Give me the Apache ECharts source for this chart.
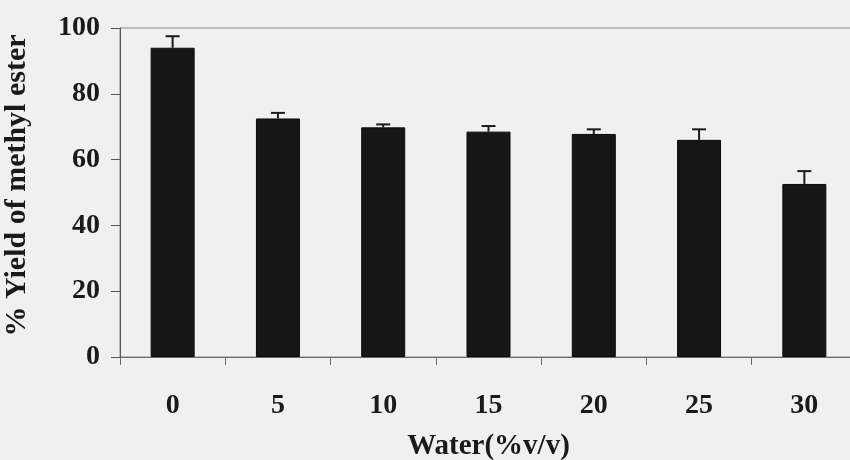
<!DOCTYPE html>
<html>
<head>
<meta charset="utf-8">
<script src="https://cdn.jsdelivr.net/npm/echarts@6/dist/echarts.min.js"></script>
<style>
html,body{margin:0;padding:0;background:#f0f0f0;}
#chart{width:850px;height:460px;}
</style>
</head>
<body>
<div id="chart"></div>
<script>
const categories = ['0', '5', '10', '15', '20', '25', '30'];
const yieldValues = [94.0, 72.5, 69.8, 68.5, 67.8, 66.0, 52.6];
const errorValues = [3.5, 1.7, 0.9, 1.7, 1.4, 3.2, 3.9];
const yTicks = [0, 20, 40, 60, 80, 100];

const font = 'Liberation Serif, Times New Roman, serif';
const chart = echarts.init(document.getElementById('chart'), null, {renderer: 'canvas'});

const errData = categories.map((c, i) => [i, yieldValues[i], yieldValues[i] + errorValues[i]]);

chart.setOption({
  backgroundColor: '#f0f0f0',
  animation: false,
  grid: {
    left: 120, top: 28, width: 737, height: 329,
    containLabel: false,
    outerBoundsMode: 'none',
    show: true, borderColor: '#8a8a8a', borderWidth: 1, backgroundColor: 'transparent'
  },
  xAxis: {
    type: 'category',
    data: categories,
    name: 'Water(%v/v)',
    nameLocation: 'middle',
    nameGap: 75,
    nameTextStyle: {fontFamily: font, fontWeight: 'bold', fontSize: 29, color: '#1a1a1a'},
    axisLine: {lineStyle: {color: '#6a6a6a', width: 1}},
    axisTick: {show: true, length: 8, inside: false, lineStyle: {color: '#6a6a6a'}},
    axisLabel: {fontFamily: font, fontWeight: 'bold', fontSize: 28, color: '#1a1a1a', margin: 35},
    splitLine: {show: false}
  },
  yAxis: {
    type: 'value',
    min: 0, max: 100, interval: 20,
    name: '% Yield of methyl ester',
    nameLocation: 'middle',
    nameGap: 88,
    nameRotate: 90,
    nameTextStyle: {fontFamily: font, fontWeight: 'bold', fontSize: 30, color: '#1a1a1a', padding: [0, 0, 0, 14]},
    axisLine: {show: true, lineStyle: {color: '#555', width: 1}},
    axisTick: {show: true, length: 9, lineStyle: {color: '#555'}},
    axisLabel: {
      fontFamily: font, fontWeight: 'bold', fontSize: 28, color: '#1a1a1a', margin: 20,
      formatter: v => yTicks.includes(v) ? String(v) : ''
    },
    splitLine: {show: false}
  },
  series: [
    {
      type: 'bar',
      data: yieldValues,
      barWidth: 44,
      itemStyle: {color: '#161616', borderColor: '#0a0a0a', borderWidth: 1},
      z: 2
    },
    {
      type: 'custom',
      data: errData,
      z: 3,
      renderItem: function (params, api) {
        const i = api.value(0);
        const base = api.coord([i, api.value(1)]);
        const top = api.coord([i, api.value(2)]);
        const half = 7;
        const style = {stroke: '#1a1a1a', lineWidth: 2};
        return {
          type: 'group',
          children: [
            {type: 'line', shape: {x1: base[0], y1: base[1], x2: top[0], y2: top[1]}, style: style},
            {type: 'line', shape: {x1: top[0] - half, y1: top[1], x2: top[0] + half, y2: top[1]}, style: style}
          ]
        };
      }
    }
  ]
});
</script>
</body>
</html>
